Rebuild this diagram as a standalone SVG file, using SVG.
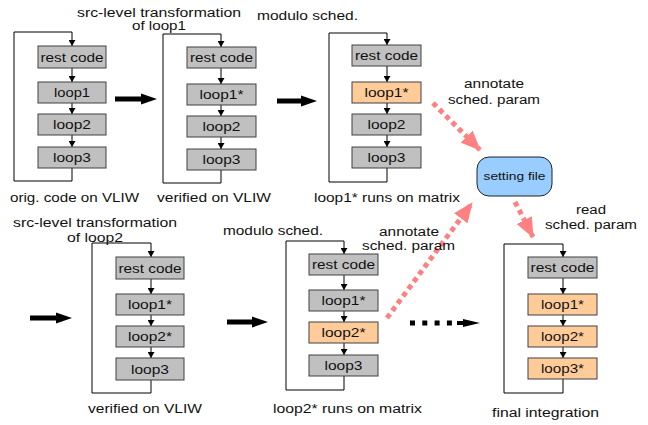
<svg xmlns="http://www.w3.org/2000/svg" width="648" height="425" viewBox="0 0 648 425">
<style>
text{font-family:"Liberation Sans",Arial,sans-serif;fill:#111}
.lbl{font-size:12.5px}
.bt{font-size:13px;text-anchor:middle}
.g{fill:#c0c0c0;stroke:#404040;stroke-width:1}
.o{fill:#ffcc99;stroke:#404040;stroke-width:1}
.ln{fill:none;stroke:#000;stroke-width:1}
.pk{fill:none;stroke:#ff8080;stroke-width:5;stroke-dasharray:5 4}
.big{fill:#000}
</style>
<defs>
<marker id="ah" markerUnits="userSpaceOnUse" markerWidth="6" markerHeight="7" refX="6" refY="3.5" orient="auto"><path d="M0,0 L6,3.5 L0,7 z" fill="#000"/></marker>
<marker id="ph" markerUnits="userSpaceOnUse" markerWidth="20" markerHeight="17" refX="19" refY="8.5" orient="auto"><path d="M0,0 L20,8.5 L0,17 z" fill="#ff8080"/></marker>
</defs>

<g id="connectors">
<path class="ln" d="M72,168 V181 H14 V32 H72 V46" marker-end="url(#ah)"/>
<path class="ln" d="M72,68 V82" marker-end="url(#ah)"/>
<path class="ln" d="M72,103 V114" marker-end="url(#ah)"/>
<path class="ln" d="M72,135 V147" marker-end="url(#ah)"/>
<path class="ln" d="M221,170 V183 H163 V34 H221 V47" marker-end="url(#ah)"/>
<path class="ln" d="M221,68 V84" marker-end="url(#ah)"/>
<path class="ln" d="M221,105 V116" marker-end="url(#ah)"/>
<path class="ln" d="M221,137 V149" marker-end="url(#ah)"/>
<path class="ln" d="M387,168 V182 H329 V33 H387 V45" marker-end="url(#ah)"/>
<path class="ln" d="M387,66 V82" marker-end="url(#ah)"/>
<path class="ln" d="M387,103 V114" marker-end="url(#ah)"/>
<path class="ln" d="M387,135 V147" marker-end="url(#ah)"/>
<path class="ln" d="M151,380 V393 H92 V243 H151 V257" marker-end="url(#ah)"/>
<path class="ln" d="M151,279 V294" marker-end="url(#ah)"/>
<path class="ln" d="M151,315 V326" marker-end="url(#ah)"/>
<path class="ln" d="M151,347 V358" marker-end="url(#ah)"/>
<path class="ln" d="M344,376 V390 H286 V241 H344 V254" marker-end="url(#ah)"/>
<path class="ln" d="M344,275 V290" marker-end="url(#ah)"/>
<path class="ln" d="M344,311 V322" marker-end="url(#ah)"/>
<path class="ln" d="M344,343 V355" marker-end="url(#ah)"/>
<path class="ln" d="M563,379 V393 H504 V244 H563 V257" marker-end="url(#ah)"/>
<path class="ln" d="M563,278 V294" marker-end="url(#ah)"/>
<path class="ln" d="M563,315 V326" marker-end="url(#ah)"/>
<path class="ln" d="M563,347 V358" marker-end="url(#ah)"/>
<path class="big" d="M115,96.5 H141 V93.5 L157,99 L141,104.5 V101.5 H115 z"/>
<path class="big" d="M277,98.5 H301 V95.5 L317,101 L301,106.5 V103.5 H277 z"/>
<path class="big" d="M30,315.5 H56 V312.5 L72,318 L56,323.5 V320.5 H30 z"/>
<path class="big" d="M227,319.5 H252 V316.5 L268,322 L252,327.5 V324.5 H227 z"/>
<path d="M410,323 H456" fill="none" stroke="#000" stroke-width="5" stroke-dasharray="5 7.3"/>
<path class="big" d="M457,321 H463 V319 L480,323 L463,327 V325 H457 z"/>
<path class="pk" d="M433,103 L480,150" marker-end="url(#ph)"/>
<path class="pk" d="M387,318 L472,203" marker-end="url(#ph)"/>
<path class="pk" d="M515,202 L533,237" marker-end="url(#ph)"/>
</g>

<g id="p1-rest"><rect class="g" x="38" y="46" width="68" height="22"/><text class="bt" x="72" y="61.5" textLength="63" lengthAdjust="spacingAndGlyphs">rest code</text></g>
<g id="p1-loop1"><rect class="g" x="38" y="82" width="68" height="21"/><text class="bt" x="72" y="97" textLength="36" lengthAdjust="spacingAndGlyphs">loop1</text></g>
<g id="p1-loop2"><rect class="g" x="38" y="114" width="68" height="21"/><text class="bt" x="72" y="129" textLength="38" lengthAdjust="spacingAndGlyphs">loop2</text></g>
<g id="p1-loop3"><rect class="g" x="38" y="147" width="68" height="21"/><text class="bt" x="72" y="162" textLength="38" lengthAdjust="spacingAndGlyphs">loop3</text></g>

<g id="p2-rest"><rect class="g" x="187" y="47" width="69" height="21"/><text class="bt" x="221.5" y="62" textLength="63" lengthAdjust="spacingAndGlyphs">rest code</text></g>
<g id="p2-loop1"><rect class="g" x="187" y="84" width="69" height="21"/><text class="bt" x="221.5" y="99" textLength="44" lengthAdjust="spacingAndGlyphs">loop1*</text></g>
<g id="p2-loop2"><rect class="g" x="187" y="116" width="69" height="21"/><text class="bt" x="221.5" y="131" textLength="38" lengthAdjust="spacingAndGlyphs">loop2</text></g>
<g id="p2-loop3"><rect class="g" x="187" y="149" width="69" height="21"/><text class="bt" x="221.5" y="164" textLength="38" lengthAdjust="spacingAndGlyphs">loop3</text></g>

<g id="p3-rest"><rect class="g" x="352" y="45" width="69" height="21"/><text class="bt" x="386.5" y="60" textLength="63" lengthAdjust="spacingAndGlyphs">rest code</text></g>
<g id="p3-loop1"><rect class="o" x="352" y="82" width="69" height="21"/><text class="bt" x="386.5" y="97" textLength="44" lengthAdjust="spacingAndGlyphs">loop1*</text></g>
<g id="p3-loop2"><rect class="g" x="352" y="114" width="69" height="21"/><text class="bt" x="386.5" y="129" textLength="38" lengthAdjust="spacingAndGlyphs">loop2</text></g>
<g id="p3-loop3"><rect class="g" x="352" y="147" width="69" height="21"/><text class="bt" x="386.5" y="162" textLength="38" lengthAdjust="spacingAndGlyphs">loop3</text></g>

<g id="p4-rest"><rect class="g" x="116" y="257" width="68" height="22"/><text class="bt" x="150" y="272.5" textLength="63" lengthAdjust="spacingAndGlyphs">rest code</text></g>
<g id="p4-loop1"><rect class="g" x="116" y="294" width="68" height="21"/><text class="bt" x="150" y="309" textLength="44" lengthAdjust="spacingAndGlyphs">loop1*</text></g>
<g id="p4-loop2"><rect class="g" x="116" y="326" width="68" height="21"/><text class="bt" x="150" y="341" textLength="44" lengthAdjust="spacingAndGlyphs">loop2*</text></g>
<g id="p4-loop3"><rect class="g" x="116" y="358" width="68" height="22"/><text class="bt" x="150" y="373.5" textLength="38" lengthAdjust="spacingAndGlyphs">loop3</text></g>

<g id="p5-rest"><rect class="g" x="309" y="254" width="69" height="21"/><text class="bt" x="343.5" y="269" textLength="63" lengthAdjust="spacingAndGlyphs">rest code</text></g>
<g id="p5-loop1"><rect class="g" x="309" y="290" width="69" height="21"/><text class="bt" x="343.5" y="305" textLength="44" lengthAdjust="spacingAndGlyphs">loop1*</text></g>
<g id="p5-loop2"><rect class="o" x="309" y="322" width="69" height="21"/><text class="bt" x="343.5" y="337" textLength="44" lengthAdjust="spacingAndGlyphs">loop2*</text></g>
<g id="p5-loop3"><rect class="g" x="309" y="355" width="69" height="21"/><text class="bt" x="343.5" y="370" textLength="38" lengthAdjust="spacingAndGlyphs">loop3</text></g>

<g id="p6-rest"><rect class="g" x="528" y="257" width="69" height="21"/><text class="bt" x="562.5" y="272" textLength="64" lengthAdjust="spacingAndGlyphs">rest code</text></g>
<g id="p6-loop1"><rect class="o" x="528" y="294" width="69" height="21"/><text class="bt" x="562.5" y="309" textLength="43" lengthAdjust="spacingAndGlyphs">loop1*</text></g>
<g id="p6-loop2"><rect class="o" x="528" y="326" width="69" height="21"/><text class="bt" x="562.5" y="341" textLength="43" lengthAdjust="spacingAndGlyphs">loop2*</text></g>
<g id="p6-loop3"><rect class="o" x="528" y="358" width="69" height="21"/><text class="bt" x="562.5" y="373" textLength="43" lengthAdjust="spacingAndGlyphs">loop3*</text></g>

<g id="setting-file"><rect x="477" y="157" width="75" height="39" rx="12" ry="12" fill="#99ccff" stroke="#222" stroke-width="1"/><text x="514.5" y="179.5" font-size="10.5" text-anchor="middle" textLength="62" lengthAdjust="spacingAndGlyphs">setting file</text></g>

<g id="labels">
<text class="lbl" x="77" y="17" textLength="164" lengthAdjust="spacingAndGlyphs">src-level transformation</text>
<text class="lbl" x="132" y="30" textLength="54" lengthAdjust="spacingAndGlyphs">of loop1</text>
<text class="lbl" x="257" y="20" textLength="101" lengthAdjust="spacingAndGlyphs">modulo sched.</text>
<text class="lbl" x="10" y="202" textLength="129" lengthAdjust="spacingAndGlyphs">orig. code on VLIW</text>
<text class="lbl" x="157" y="202" textLength="114" lengthAdjust="spacingAndGlyphs">verified on VLIW</text>
<text class="lbl" x="314" y="202" textLength="146" lengthAdjust="spacingAndGlyphs">loop1* runs on matrix</text>
<text class="lbl" x="464" y="88" textLength="60" lengthAdjust="spacingAndGlyphs">annotate</text>
<text class="lbl" x="448" y="104" textLength="92" lengthAdjust="spacingAndGlyphs">sched. param</text>
<text class="lbl" x="576" y="214" textLength="30" lengthAdjust="spacingAndGlyphs">read</text>
<text class="lbl" x="545" y="229" textLength="92" lengthAdjust="spacingAndGlyphs">sched. param</text>
<text class="lbl" x="13" y="227" textLength="164" lengthAdjust="spacingAndGlyphs">src-level transformation</text>
<text class="lbl" x="67" y="242" textLength="56" lengthAdjust="spacingAndGlyphs">of loop2</text>
<text class="lbl" x="223" y="235" textLength="100" lengthAdjust="spacingAndGlyphs">modulo sched.</text>
<text class="lbl" x="379" y="236" textLength="60" lengthAdjust="spacingAndGlyphs">annotate</text>
<text class="lbl" x="362" y="250" textLength="93" lengthAdjust="spacingAndGlyphs">sched. param</text>
<text class="lbl" x="88" y="413" textLength="114" lengthAdjust="spacingAndGlyphs">verified on VLIW</text>
<text class="lbl" x="273" y="413" textLength="149" lengthAdjust="spacingAndGlyphs">loop2* runs on matrix</text>
<text class="lbl" x="492" y="417" textLength="107" lengthAdjust="spacingAndGlyphs">final integration</text>
</g>
</svg>
